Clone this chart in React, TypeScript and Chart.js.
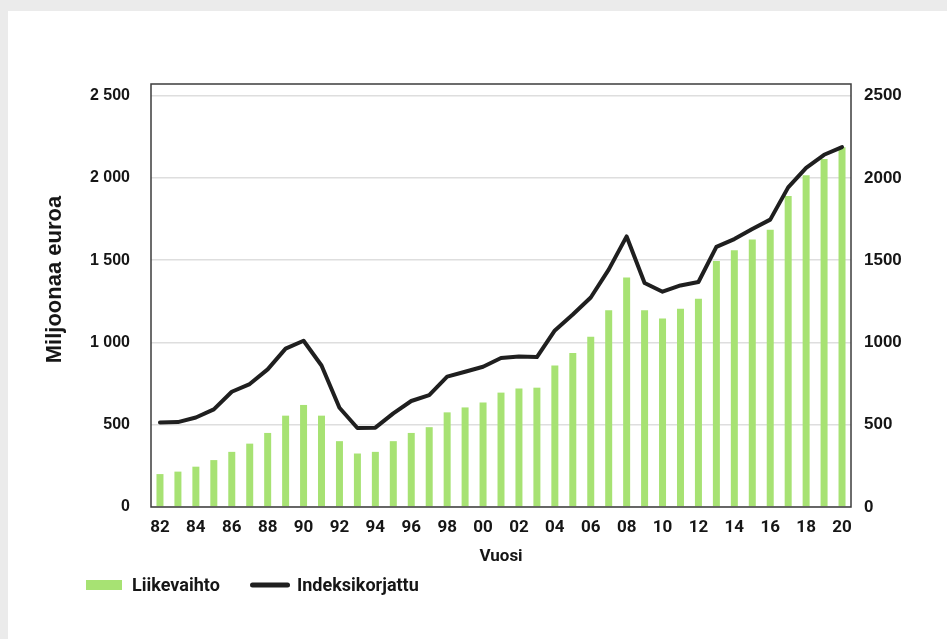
import React, { useEffect, useRef } from 'react';
import { Chart, registerables } from 'chart.js';

Chart.register(...registerables);

const years = [
  '82', '83', '84', '85', '86', '87', '88', '89', '90', '91',
  '92', '93', '94', '95', '96', '97', '98', '99', '00', '01',
  '02', '03', '04', '05', '06', '07', '08', '09', '10', '11',
  '12', '13', '14', '15', '16', '17', '18', '19', '20',
];

const liikevaihto = [
  200, 215, 245, 285, 335, 385, 450, 555, 620, 555,
  400, 325, 335, 400, 450, 485, 575, 605, 635, 695,
  720, 725, 860, 935, 1035, 1195, 1395, 1195, 1145, 1205,
  1265, 1495, 1560, 1625, 1685, 1890, 2015, 2115, 2185,
];

const indeksikorjattu = [
  514, 516, 544, 593, 700, 747, 836, 962, 1010, 860,
  603, 480, 482, 569, 644, 680, 792, 822, 852, 905,
  915, 911, 1073, 1170, 1273, 1442, 1644, 1361, 1308, 1346,
  1367, 1580, 1628, 1689, 1746, 1942, 2061, 2140, 2187,
];

const tickValues = [0, 500, 1000, 1500, 2000, 2500];
const leftTickLabels = ['0', '500', '1 000', '1 500', '2 000', '2 500'];
const rightTickLabels = ['0', '500', '1000', '1500', '2000', '2500'];

const seriesNames = ['Liikevaihto', 'Indeksikorjattu'];
const xTitle = 'Vuosi';
const yTitle = 'Miljoonaa euroa';

const GREEN = '#a7e273';
const LINE = '#1f1f1f';
const TEXT = '#161616';

function labelFor(list: string[], v: number) {
  const i = tickValues.indexOf(v);
  return i >= 0 ? list[i] : '';
}

const setTicks = (s: any) => {
  s.ticks = tickValues.map((v) => ({ value: v }));
};

const framePlugin = {
  id: 'frame',
  afterDatasetsDraw(chart: any) {
    const { ctx, chartArea } = chart;
    ctx.save();
    ctx.strokeStyle = '#3c3c3c';
    ctx.lineWidth = 1.5;
    ctx.strokeRect(chartArea.left, chartArea.top, chartArea.right - chartArea.left, chartArea.bottom - chartArea.top);
    ctx.restore();
  },
};

const extrasPlugin = {
  id: 'extras',
  afterDraw(chart: any) {
    const { ctx, chartArea } = chart;
    ctx.save();
    // y-axis title
    ctx.fillStyle = TEXT;
    ctx.font = 'bold 22px "Liberation Sans", Arial, sans-serif';
    ctx.textAlign = 'center';
    ctx.textBaseline = 'middle';
    ctx.translate(47, chartArea.top + (chartArea.bottom - chartArea.top) / 2 - 16);
    ctx.rotate(-Math.PI / 2);
    ctx.fillText(yTitle, 0, 0);
    ctx.restore();

    // legend
    ctx.save();
    const ly = 574;
    ctx.fillStyle = GREEN;
    ctx.fillRect(78, ly - 5, 36, 10);
    ctx.fillStyle = TEXT;
    ctx.font = 'bold 18px Roboto, sans-serif';
    ctx.textAlign = 'left';
    ctx.textBaseline = 'middle';
    ctx.fillText(seriesNames[0], 124, ly + 1);
    ctx.strokeStyle = LINE;
    ctx.lineWidth = 5;
    ctx.lineCap = 'round';
    ctx.beginPath();
    ctx.moveTo(244.5, ly);
    ctx.lineTo(279.5, ly);
    ctx.stroke();
    ctx.fillText(seriesNames[1], 289, ly + 1);
    ctx.restore();
  },
};

export default function App() {
  const ref = useRef<HTMLCanvasElement>(null);

  useEffect(() => {
    document.body.style.margin = '0';
    const canvas = ref.current;
    if (!canvas) return;
    const chart = new Chart(canvas, {
      type: 'bar',
      data: {
        labels: years,
        datasets: [
          {
            type: 'line',
            label: seriesNames[1],
            data: indeksikorjattu,
            borderColor: LINE,
            backgroundColor: LINE,
            borderWidth: 4,
            pointRadius: 0,
            tension: 0,
            borderCapStyle: 'round',
            borderJoinStyle: 'round',
            yAxisID: 'y',
            order: 0,
          } as any,
          {
            type: 'bar',
            label: seriesNames[0],
            data: liikevaihto,
            backgroundColor: GREEN,
            borderWidth: 0,
            categoryPercentage: 1,
            barPercentage: 0.39,
            yAxisID: 'y',
            order: 1,
          },
        ],
      },
      options: {
        responsive: false,
        animation: false,
        events: [],
        layout: { padding: { top: 73, left: 0, right: 0, bottom: 60 } },
        plugins: {
          legend: { display: false },
          tooltip: { enabled: false },
          title: { display: false },
        },
        scales: {
          x: {
            type: 'category',
            offset: true,
            grid: { display: false, drawTicks: false },
            border: { display: false },
            ticks: {
              autoSkip: false,
              maxRotation: 0,
              minRotation: 0,
              padding: 11,
              color: TEXT,
              font: { family: 'Roboto, sans-serif', weight: 'bold', size: 17 },
              callback: (_v: any, i: number) => (i % 2 === 0 ? years[i] : ''),
            },
            title: {
              display: true,
              text: xTitle,
              color: TEXT,
              font: { family: 'Roboto, sans-serif', weight: 'bold', size: 17 },
              padding: { top: 4, bottom: 12 },
            },
            afterFit: (s: any) => {
              s.height = 72;
            },
          },
          y: {
            type: 'linear',
            position: 'left',
            min: 0,
            max: 2570,
            afterBuildTicks: setTicks,
            grid: { color: '#dedede', lineWidth: 1.5, drawTicks: false },
            border: { display: false },
            ticks: {
              autoSkip: false,
              padding: 21,
              color: TEXT,
              font: { family: '"Liberation Sans", Arial, sans-serif', weight: 'bold', size: 16 },
              callback: (v: any) => labelFor(leftTickLabels, Number(v)),
            },
            afterFit: (s: any) => {
              s.width = 143;
            },
          },
          y2: {
            type: 'linear',
            position: 'right',
            min: 0,
            max: 2570,
            afterBuildTicks: setTicks,
            grid: { display: false, drawTicks: false },
            border: { display: false },
            ticks: {
              autoSkip: false,
              padding: 13,
              color: TEXT,
              font: { family: '"Liberation Sans", Arial, sans-serif', weight: 'bold', size: 17 },
              callback: (v: any) => labelFor(rightTickLabels, Number(v)),
            },
            afterFit: (s: any) => {
              s.width = 96;
            },
          },
        },
      } as any,
      plugins: [framePlugin, extrasPlugin],
    });
    return () => chart.destroy();
  }, []);

  return (
    <div style={{ position: 'fixed', inset: 0, background: '#ebebeb' }}>
      <div
        style={{
          position: 'absolute',
          left: 8,
          top: 11,
          width: 939,
          height: 628,
          background: '#ffffff',
        }}
      >
        <canvas ref={ref} width={939} height={628} style={{ display: 'block', width: 939, height: 628 }} />
      </div>
    </div>
  );
}
